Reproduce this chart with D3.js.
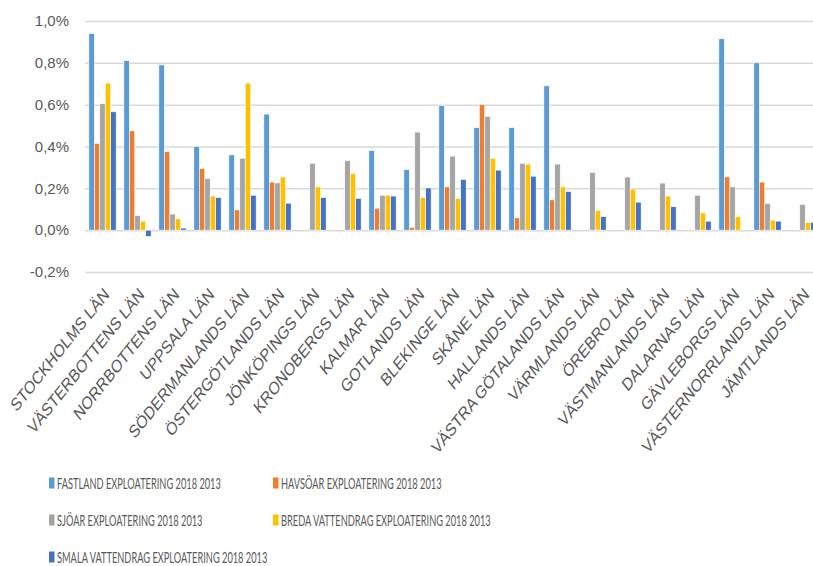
<!DOCTYPE html>
<html lang="sv">
<head>
<meta charset="utf-8">
<title>Exploatering per län</title>
<style>
  html, body { margin: 0; padding: 0; background: #fff; }
  svg { display: block; font-family: Lato, "Open Sans", sans-serif; }
  .tick text { fill: #595959; }
</style>
</head>
<body>
<svg id="chart" width="813" height="566"></svg>
<script src="https://d3js.org/d3.v7.min.js"></script>
<script>
  const categories = ["STOCKHOLMS LÄN", "VÄSTERBOTTENS LÄN", "NORRBOTTENS LÄN", "UPPSALA LÄN",
    "SÖDERMANLANDS LÄN", "ÖSTERGÖTLANDS LÄN", "JÖNKÖPINGS LÄN", "KRONOBERGS LÄN", "KALMAR LÄN",
    "GOTLANDS LÄN", "BLEKINGE LÄN", "SKÅNE LÄN", "HALLANDS LÄN", "VÄSTRA GÖTALANDS LÄN",
    "VÄRMLANDS LÄN", "ÖREBRO LÄN", "VÄSTMANLANDS LÄN", "DALARNAS LÄN", "GÄVLEBORGS LÄN",
    "VÄSTERNORRLANDS LÄN", "JÄMTLANDS LÄN"];

  const seriesNames = ["FASTLAND EXPLOATERING 2018 2013", "HAVSÖAR EXPLOATERING 2018 2013",
    "SJÖAR EXPLOATERING 2018 2013", "BREDA VATTENDRAG EXPLOATERING 2018 2013",
    "SMALA VATTENDRAG EXPLOATERING 2018 2013"];
  const colors = ["#5B9BD5", "#ED7D31", "#A5A5A5", "#FFC000", "#4472C4"];

  // values in percent
  const fastland = [0.94, 0.81, 0.79, 0.40, 0.36, 0.555, null, null, 0.38, 0.29, 0.595,
    0.49, 0.49, 0.69, null, null, null, null, 0.915, 0.80, null];
  const havsoar = [0.415, 0.475, 0.375, 0.295, 0.097, 0.23, null, null, 0.105, 0.014, 0.207,
    0.60, 0.059, 0.145, null, null, null, null, 0.255, 0.23, null];
  const sjoar = [0.605, 0.07, 0.077, 0.247, 0.344, 0.226, 0.32, 0.333, 0.167, 0.469, 0.354,
    0.544, 0.32, 0.316, 0.276, 0.254, 0.225, 0.167, 0.207, 0.128, 0.123];
  const breda = [0.703, 0.043, 0.054, 0.163, 0.703, 0.254, 0.207, 0.271, 0.167, 0.156, 0.152,
    0.344, 0.316, 0.207, 0.094, 0.196, 0.163, 0.083, 0.065, 0.048, 0.037];
  const smala = [0.566, -0.03, 0.01, 0.156, 0.167, 0.129, 0.156, 0.152, 0.163, 0.202, 0.243,
    0.287, 0.258, 0.185, 0.065, 0.134, 0.112, 0.043, null, 0.043, 0.037];

  const yTicks = [-0.2, 0, 0.2, 0.4, 0.6, 0.8, 1.0];
  const yTickLabels = ["-0,2%", "0,0%", "0,2%", "0,4%", "0,6%", "0,8%", "1,0%"];

  const allSeries = [fastland, havsoar, sjoar, breda, smala];

  const plotLeft = 85, plotRight = 820, plotTop = 21, plotBottom = 272;
  const svg = d3.select("#chart");

  const x0 = d3.scaleBand()
    .domain(categories)
    .range([plotLeft, plotRight])
    .paddingInner(0.22)
    .paddingOuter(0.11);

  const x1 = d3.scaleBand()
    .domain(d3.range(seriesNames.length))
    .range([0, x0.bandwidth()]);

  const y = d3.scaleLinear()
    .domain([-0.2, 1.0])
    .range([plotBottom, plotTop]);

  // gridlines + y labels
  const yAxis = d3.axisLeft(y)
    .tickValues(yTicks)
    .tickFormat((d, i) => yTickLabels[i])
    .tickSize(-(plotRight - plotLeft))
    .tickPadding(16);

  const gy = svg.append("g")
    .attr("transform", `translate(${plotLeft},0)`)
    .call(yAxis);
  gy.select(".domain").remove();
  gy.selectAll(".tick line")
    .attr("stroke", "#d9d9d9")
    .attr("stroke-width", 1.5);
  gy.selectAll(".tick text")
    .style("font-size", "15px");

  // bars
  const groups = svg.append("g").selectAll("g")
    .data(categories)
    .join("g")
    .attr("transform", d => `translate(${x0(d)},0)`);

  groups.selectAll("rect")
    .data((d, ci) => allSeries.map((s, si) => ({ si, v: s[ci] })).filter(e => e.v !== null))
    .join("rect")
    .attr("x", d => x1(d.si))
    .attr("width", x1.bandwidth())
    .attr("y", d => y(Math.max(0, d.v)))
    .attr("height", d => Math.abs(y(d.v) - y(0)))
    .attr("fill", d => colors[d.si])
    .attr("stroke", "#fff")
    .attr("stroke-width", 0.6);

  // category labels (slanted, a bit squeezed like the original)
  const xAxis = d3.axisBottom(x0).tickSize(0);
  const gx = svg.append("g")
    .attr("transform", `translate(0,${plotBottom})`)
    .call(xAxis);
  gx.select(".domain").remove();
  gx.selectAll(".tick text")
    .attr("x", 0)
    .attr("y", 0)
    .attr("dy", "0.35em")
    .attr("text-anchor", "end")
    .style("font-size", "18px")
    .attr("transform", "translate(4,19) scale(0.8,1) rotate(-45)");

  // legend
  const legendPos = [[49, 483], [273, 483], [49, 520], [273, 520], [49, 557]];
  const legend = svg.append("g").selectAll("g")
    .data(seriesNames)
    .join("g")
    .attr("transform", (d, i) => `translate(${legendPos[i][0]},${legendPos[i][1]})`);

  legend.append("rect")
    .attr("x", 0)
    .attr("y", -5.5)
    .attr("width", 5.5)
    .attr("height", 11)
    .attr("fill", (d, i) => colors[i]);

  const legendText = legend.append("text")
    .attr("dy", "0.36em")
    .attr("fill", "#595959")
    .style("font-size", "16px")
    .text(d => d);

  const k = 164 / legendText.node().getComputedTextLength();
  legendText.attr("transform", `translate(8,0) scale(${k},1)`);
</script>
</body>
</html>
